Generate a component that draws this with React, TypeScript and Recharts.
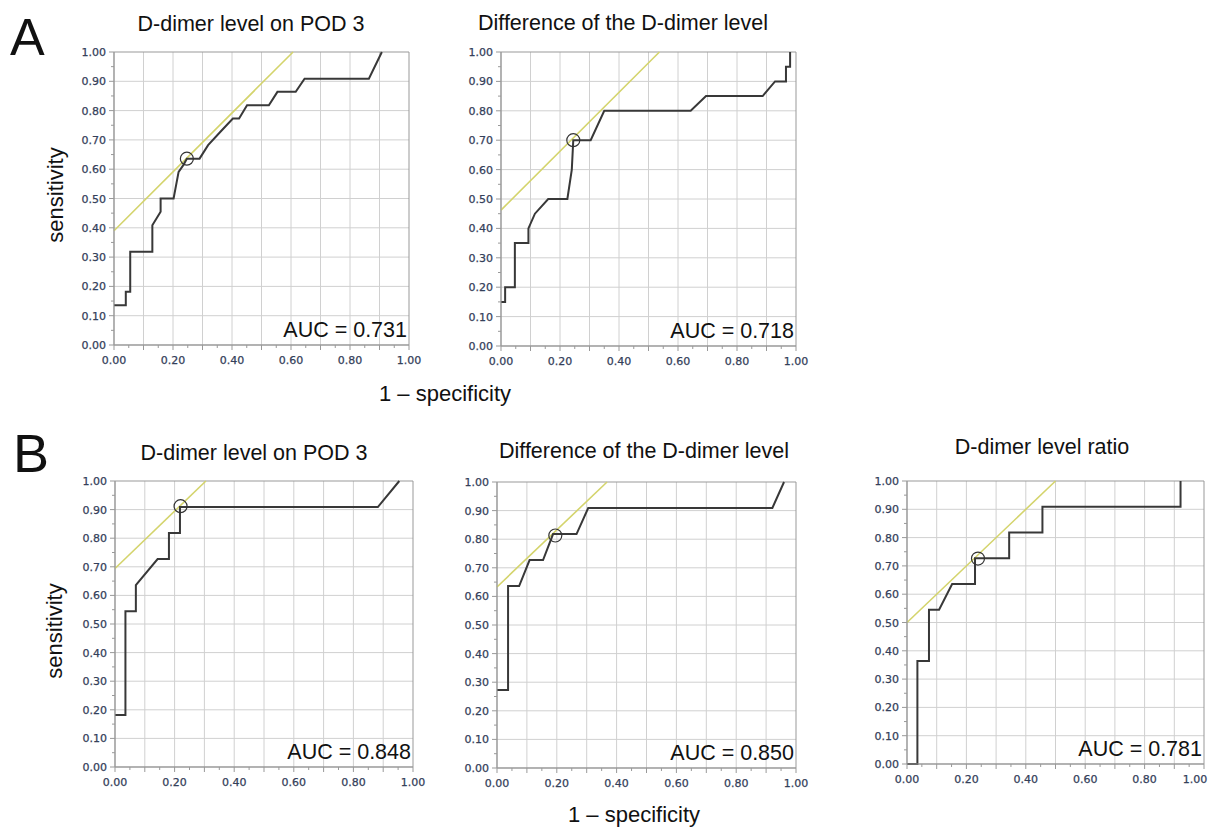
import React from "react";
import {
  LineChart,
  Line,
  XAxis,
  YAxis,
  CartesianGrid,
  ReferenceLine,
  ReferenceDot,
  ReferenceArea,
} from "recharts";

// ---------- data ----------
const axisTicks = [0, 0.05, 0.1, 0.15, 0.2, 0.25, 0.3, 0.35, 0.4, 0.45, 0.5, 0.55, 0.6, 0.65, 0.7, 0.75, 0.8, 0.85, 0.9, 0.95, 1.0];
const gridValues = [0.1, 0.2, 0.3, 0.4, 0.5, 0.6, 0.7, 0.8, 0.9];

// Panel A1: D-dimer level on POD 3
const a1X = [0, 0.04, 0.04, 0.055, 0.055, 0.13, 0.13, 0.158, 0.158, 0.202, 0.219, 0.235, 0.247, 0.29, 0.319, 0.36, 0.403, 0.424, 0.451, 0.525, 0.554, 0.616, 0.646, 0.864, 0.908];
const a1Y = [0.136, 0.136, 0.182, 0.182, 0.318, 0.318, 0.409, 0.455, 0.5, 0.5, 0.591, 0.614, 0.636, 0.636, 0.682, 0.727, 0.773, 0.773, 0.818, 0.818, 0.864, 0.864, 0.909, 0.909, 1.0];
const a1Cut = [0.247, 0.636];
const a1Tangent = [[0, 0.39], [0.607, 1.0]];

// Panel A2: Difference of the D-dimer level
const a2X = [0, 0.014, 0.014, 0.047, 0.047, 0.093, 0.093, 0.115, 0.16, 0.225, 0.24, 0.245, 0.304, 0.35, 0.643, 0.695, 0.887, 0.929, 0.966, 0.966, 0.98, 0.98];
const a2Y = [0.15, 0.15, 0.2, 0.2, 0.35, 0.35, 0.4, 0.45, 0.5, 0.5, 0.6, 0.7, 0.7, 0.8, 0.8, 0.85, 0.85, 0.9, 0.9, 0.95, 0.95, 1.0];
const a2Cut = [0.245, 0.7];
const a2Tangent = [[0, 0.462], [0.537, 1.0]];

// Panel B1: D-dimer level on POD 3
const b1X = [0, 0.035, 0.035, 0.07, 0.07, 0.143, 0.181, 0.181, 0.218, 0.218, 0.882, 0.954];
const b1Y = [0.182, 0.182, 0.545, 0.545, 0.636, 0.727, 0.727, 0.818, 0.818, 0.909, 0.909, 1.0];
const b1Cut = [0.22, 0.912];
const b1Tangent = [[0, 0.694], [0.305, 1.0]];

// Panel B2: Difference of the D-dimer level
const b2X = [0, 0.037, 0.037, 0.074, 0.109, 0.154, 0.1875, 0.266, 0.305, 0.921, 0.96];
const b2Y = [0.273, 0.273, 0.636, 0.636, 0.727, 0.727, 0.818, 0.818, 0.909, 0.909, 1.0];
const b2Cut = [0.195, 0.813];
const b2Tangent = [[0, 0.633], [0.368, 1.0]];

// Panel B3: D-dimer level ratio
const b3X = [0, 0.035, 0.035, 0.074, 0.074, 0.108, 0.152, 0.229, 0.229, 0.344, 0.344, 0.456, 0.456, 0.921, 0.921];
const b3Y = [0, 0, 0.364, 0.364, 0.545, 0.545, 0.636, 0.636, 0.727, 0.727, 0.818, 0.818, 0.909, 0.909, 1.0];
const b3Cut = [0.239, 0.726];
const b3Tangent = [[0, 0.5], [0.5, 1.0]];

const titles = ["D-dimer level on POD 3", "Difference of the D-dimer level", "D-dimer level on POD 3", "Difference of the D-dimer level", "D-dimer level ratio"];
const aucLabels = ["AUC = 0.731", "AUC = 0.718", "AUC = 0.848", "AUC = 0.850", "AUC = 0.781"];
const yAxisLabel = "sensitivity";
const xAxisLabel = "1 – specificity";

// ---------- styling ----------
const YW = 50;
const MT = 8;
const MR = 18;
const XH = 30;
const TICK_COLOR = "#34405a";
const AXIS_COLOR = "#999999";
const GRID_COLOR = "#d0d0d0";
const CURVE_COLOR = "#383838";
const TANGENT_COLOR = "#d4d46c";
const SANS = "'Liberation Sans', Arial, Helvetica, sans-serif";
const TICK_FONT = "'DejaVu Sans', Verdana, sans-serif";

const isMajor = (v: number) => Math.round(v * 100) % 10 === 0;
const fmt = (v: number) => v.toFixed(2);

const XTick = (props: any) => {
  const { x, y, payload, lastShift = 0 } = props;
  const v = payload.value as number;
  const major = isMajor(v);
  const labelled = Math.round(v * 100) % 20 === 0;
  const tx = v >= 0.999 ? x + lastShift : x;
  return (
    <g>
      <line x1={x} x2={x} y1={y} y2={y + (major ? 5 : 3)} stroke={AXIS_COLOR} strokeWidth={1} />
      {labelled && (
        <text x={tx} y={y + 19} textAnchor="middle" fontSize={11} fontFamily={TICK_FONT} fill={TICK_COLOR} stroke={TICK_COLOR} strokeWidth={0.25}>
          {fmt(v)}
        </text>
      )}
    </g>
  );
};

const YTick = (props: any) => {
  const { x, y, payload } = props;
  const v = payload.value as number;
  const major = isMajor(v);
  return (
    <g>
      <line x1={x} x2={x - (major ? 5 : 3)} y1={y} y2={y} stroke={AXIS_COLOR} strokeWidth={1} />
      {major && (
        <text x={x - 8} y={y + 4} textAnchor="end" fontSize={11} fontFamily={TICK_FONT} fill={TICK_COLOR} stroke={TICK_COLOR} strokeWidth={0.25}>
          {fmt(v)}
        </text>
      )}
    </g>
  );
};

type PanelProps = {
  left: number;
  top: number;
  w: number;
  h: number;
  xs: number[];
  ys: number[];
  cut: number[];
  tangent: number[][];
  lastShift?: number;
};

const Panel = ({ left, top, w, h, xs, ys, cut, tangent, lastShift = 0 }: PanelProps) => {
  const data = xs.map((x, i) => ({ x, y: ys[i] }));
  return (
    <div style={{ position: "absolute", left: left - YW, top: top - MT }}>
      <LineChart width={YW + w + MR} height={MT + h + XH} data={data} margin={{ top: MT, right: MR, left: 0, bottom: 0 }}>
        <CartesianGrid stroke={GRID_COLOR} horizontalValues={gridValues} verticalValues={gridValues} />
        <XAxis
          type="number"
          dataKey="x"
          domain={[0, 1]}
          ticks={axisTicks}
          interval={0}
          height={XH}
          tickSize={0}
          tickMargin={0}
          tickLine={false}
          axisLine={{ stroke: AXIS_COLOR }}
          tick={<XTick lastShift={lastShift} />}
        />
        <YAxis
          type="number"
          dataKey="y"
          domain={[0, 1]}
          ticks={axisTicks}
          interval={0}
          width={YW}
          tickSize={0}
          tickMargin={0}
          tickLine={false}
          axisLine={{ stroke: AXIS_COLOR }}
          tick={<YTick />}
        />
        <ReferenceArea x1={0} x2={1} y1={0} y2={1} fill="none" fillOpacity={0} stroke={AXIS_COLOR} strokeWidth={1} />
        <ReferenceLine
          segment={[
            { x: tangent[0][0], y: tangent[0][1] },
            { x: tangent[1][0], y: tangent[1][1] },
          ]}
          stroke={TANGENT_COLOR}
          strokeWidth={1.6}
        />
        <Line type="linear" dataKey="y" stroke={CURVE_COLOR} strokeWidth={2} dot={false} isAnimationActive={false} />
        <ReferenceDot x={cut[0]} y={cut[1]} r={6.5} fill="none" stroke="#333" strokeWidth={1.2} />
      </LineChart>
    </div>
  );
};

const panels = [
  { left: 114, top: 52, w: 295, h: 293, xs: a1X, ys: a1Y, cut: a1Cut, tangent: a1Tangent },
  { left: 501, top: 52, w: 295, h: 294, xs: a2X, ys: a2Y, cut: a2Cut, tangent: a2Tangent },
  { left: 115, top: 481, w: 298, h: 286, xs: b1X, ys: b1Y, cut: b1Cut, tangent: b1Tangent },
  { left: 497, top: 482, w: 299, h: 286, xs: b2X, ys: b2Y, cut: b2Cut, tangent: b2Tangent },
  { left: 907, top: 481, w: 297, h: 283, xs: b3X, ys: b3Y, cut: b3Cut, tangent: b3Tangent, lastShift: -9 },
];

const titlePos = [
  [251, 31],
  [623, 30],
  [254, 460],
  [644, 458],
  [1042, 454],
];

export default function App() {
  return (
    <div style={{ position: "absolute", left: 0, top: 0, width: 1214, height: 829, background: "#fff", overflow: "hidden" }}>
      {panels.map((p, i) => (
        <Panel key={i} {...p} />
      ))}
      <svg width={1214} height={829} style={{ position: "absolute", left: 0, top: 0, pointerEvents: "none" }}>
        <text x={10} y={55} fontSize={52} fontFamily={SANS} fill="#111">A</text>
        <text x={13} y={472} fontSize={54} fontFamily={SANS} fill="#111">B</text>
        {titles.map((t, i) => (
          <text key={t + i} x={titlePos[i][0]} y={titlePos[i][1]} textAnchor="middle" fontSize={21.5} fontFamily={SANS} fill="#111">
            {t}
          </text>
        ))}
        {panels.map((p, i) => (
          <text key={"auc" + i} x={p.left + p.w - 2} y={p.top + p.h - 8} textAnchor="end" fontSize={21.5} fontFamily={SANS} fill="#111">
            {aucLabels[i]}
          </text>
        ))}
        <text transform="translate(63,195) rotate(-90)" textAnchor="middle" fontSize={22} fontFamily={SANS} fill="#111">
          {yAxisLabel}
        </text>
        <text transform="translate(62,631) rotate(-90)" textAnchor="middle" fontSize={22} fontFamily={SANS} fill="#111">
          {yAxisLabel}
        </text>
        <text x={445} y={401} textAnchor="middle" fontSize={22} fontFamily={SANS} fill="#111">
          {xAxisLabel}
        </text>
        <text x={634} y={822} textAnchor="middle" fontSize={22} fontFamily={SANS} fill="#111">
          {xAxisLabel}
        </text>
      </svg>
    </div>
  );
}
